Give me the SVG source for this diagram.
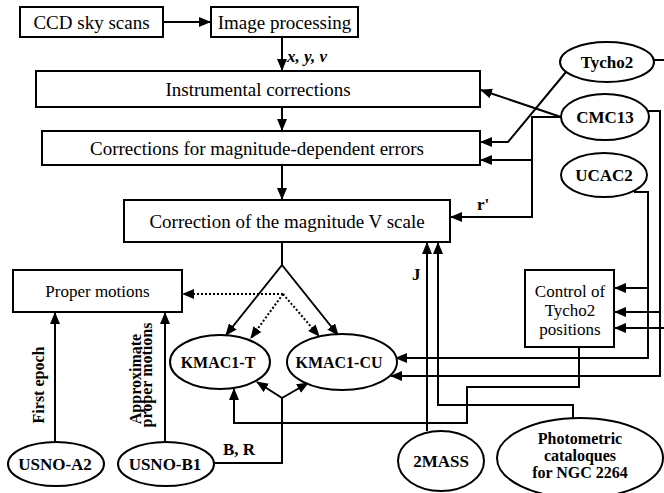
<svg xmlns="http://www.w3.org/2000/svg" width="664" height="493" viewBox="0 0 664 493" font-family="'Liberation Serif', 'Times New Roman', Times, 'DejaVu Serif', serif">
<style>
text{font-family:'Liberation Serif','Times New Roman',Times,'DejaVu Serif',serif}
.box{fill:#fff;stroke:#000;stroke-width:2}
.ell{fill:#fff;stroke:#000;stroke-width:2}
.t{font-size:19px;fill:#000;text-anchor:middle}
.s{font-size:17px}
.b{font-weight:bold;font-size:17px;fill:#000;text-anchor:middle}
.c{fill:none;stroke:#000;stroke-width:2}
.d{fill:none;stroke:#000;stroke-width:2;stroke-dasharray:2 2}
</style>
<defs>
<marker id="ah" markerUnits="userSpaceOnUse" markerWidth="12" markerHeight="10" refX="11" refY="5" orient="auto">
<path d="M0,0 L12,5 L0,10 z" fill="#000"/>
</marker>
</defs>
<g id="connectors">
<path class="c" d="M163,22 H210" marker-end="url(#ah)"/>
<path class="c" d="M282,37 V70" marker-end="url(#ah)"/>
<path class="c" d="M282,107 V130" marker-end="url(#ah)"/>
<path class="c" d="M282,165 V199" marker-end="url(#ah)"/>
<path class="c" d="M566,72 L508,142 H481" marker-end="url(#ah)"/>
<path class="c" d="M561,117 L481,90" marker-end="url(#ah)"/>
<path class="c" d="M561,117 H532 V217 H451" marker-end="url(#ah)"/>
<path class="c" d="M532,160 H481" marker-end="url(#ah)"/>
<path class="c" d="M647,111 H660 V376 H391" marker-end="url(#ah)"/>
<path class="c" d="M660,312 H615" marker-end="url(#ah)"/>
<path class="c" d="M634,192 H648 V358 H396" marker-end="url(#ah)"/>
<path class="c" d="M648,288 H615" marker-end="url(#ah)"/>
<path class="c" d="M654,60 H672 V328 H615" marker-end="url(#ah)"/>
<path class="c" d="M579,347 V387 H467 V423 H234 V389" marker-end="url(#ah)"/>
<path class="c" d="M427,431 V243" marker-end="url(#ah)"/>
<path class="c" d="M573,418 V405 H438 V243" marker-end="url(#ah)"/>
<path class="c" d="M282,242 V265 L226,335" marker-end="url(#ah)"/>
<path class="c" d="M282,265 L338,335" marker-end="url(#ah)"/>
<path class="d" d="M283,294 H183" marker-end="url(#ah)"/>
<path class="d" d="M283,294 L251,338" marker-end="url(#ah)"/>
<path class="d" d="M283,294 L319,336" marker-end="url(#ah)"/>
<path class="c" d="M214,463 H282 V398 L257,382" marker-end="url(#ah)"/>
<path class="c" d="M282,398 L308,383" marker-end="url(#ah)"/>
<path class="c" d="M55,442 V313" marker-end="url(#ah)"/>
<path class="c" d="M165,442 V313" marker-end="url(#ah)"/>
<text class="b" x="287" y="62" style="text-anchor:start;font-style:italic">x, y, v</text>
<text class="b" x="477" y="210" style="text-anchor:start">r'</text>
<text class="b" x="412" y="280" style="text-anchor:start">J</text>
<text class="b" x="223" y="455" style="text-anchor:start">B, R</text>
<text class="b" transform="translate(44,385) rotate(-90)" style="font-size:16px">First epoch</text>
<text class="b" transform="translate(141,379) rotate(-90)" style="font-size:16px">Approximate</text>
<text class="b" transform="translate(152,375) rotate(-90)" style="font-size:16px">proper motions</text>
</g>
<g id="ccd"><rect class="box" x="20" y="7" width="143" height="30"/><text class="t" x="91.5" y="29">CCD sky scans</text></g>
<g id="imgproc"><rect class="box" x="211" y="7" width="147" height="30"/><text class="t" x="284.5" y="29">Image processing</text></g>
<g id="instr"><rect class="box" x="36" y="71" width="444" height="36"/><text class="t" x="258" y="96">Instrumental corrections</text></g>
<g id="magdep"><rect class="box" x="42" y="131" width="438" height="34"/><text class="t" x="257" y="155">Corrections for magnitude-dependent errors</text></g>
<g id="vscale"><rect class="box" x="124" y="200" width="326" height="42"/><text class="t" x="287" y="228">Correction of the magnitude V scale</text></g>
<g id="proper"><rect class="box" x="13" y="270" width="169" height="42"/><text class="t s" x="97.5" y="297">Proper motions</text></g>
<g id="control"><rect class="box" x="525" y="270" width="89" height="77"/><text class="t s" x="570" y="297">Control of</text><text class="t s" x="570" y="316">Tycho2</text><text class="t s" x="570" y="335">positions</text></g>
<g id="tycho2"><ellipse class="ell" cx="607" cy="62" rx="47" ry="20"/><text class="b" x="607" y="68">Tycho2</text></g>
<g id="cmc13"><ellipse class="ell" cx="605" cy="117" rx="44" ry="23"/><text class="b" x="605" y="123">CMC13</text></g>
<g id="ucac2"><ellipse class="ell" cx="604" cy="175" rx="43" ry="22"/><text class="b" x="604" y="181">UCAC2</text></g>
<g id="kmac1t"><ellipse class="ell" cx="220" cy="362" rx="50" ry="27"/><text class="b" x="218" y="368" style="font-size:16px">KMAC1-T</text></g>
<g id="kmac1cu"><ellipse class="ell" cx="342" cy="362" rx="55" ry="28"/><text class="b" x="339" y="368" style="font-size:16px">KMAC1-CU</text></g>
<g id="usnoa2"><ellipse class="ell" cx="56" cy="464" rx="48" ry="22"/><text class="b" x="55" y="470">USNO-A2</text></g>
<g id="usnob1"><ellipse class="ell" cx="166" cy="464" rx="48" ry="22"/><text class="b" x="165" y="470">USNO-B1</text></g>
<g id="twomass"><ellipse class="ell" cx="441" cy="461" rx="43" ry="30"/><text class="b" x="441" y="467">2MASS</text></g>
<g id="photometric"><ellipse class="ell" cx="580" cy="458" rx="83" ry="40"/><text class="b" x="580" y="444" style="font-size:16px">Photometric</text><text class="b" x="580" y="461" style="font-size:16px">cataloques</text><text class="b" x="580" y="478" style="font-size:16px">for NGC 2264</text></g>
</svg>
